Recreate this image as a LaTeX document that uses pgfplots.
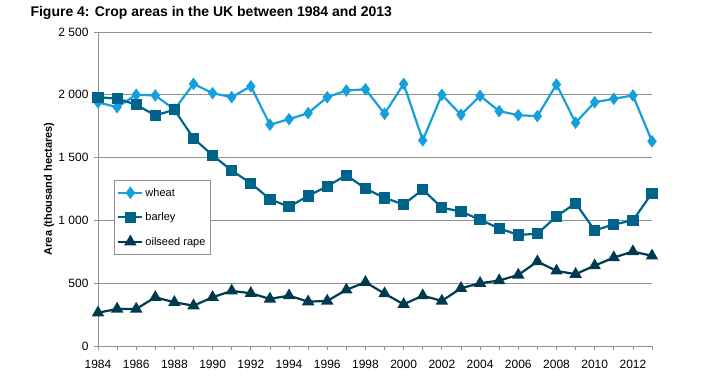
\documentclass[border=0pt]{standalone}
\usepackage{pgfplots}
\pgfplotsset{compat=1.18}
\usepackage{fontspec}
\setmainfont{Liberation Sans}
\definecolor{wheatc}{RGB}{22,160,219}
\definecolor{barleyc}{RGB}{0,100,138}
\definecolor{rapec}{RGB}{0,58,78}
\definecolor{gridc}{RGB}{145,145,145}
\begin{document}
\begin{tikzpicture}[x=1pt,y=1pt]
\useasboundingbox (0,0) rectangle (711,380);
\node[anchor=west,font=\fontsize{14}{16}\selectfont\bfseries] at (27,367) {Figure 4: Crop areas in the UK between 1984 and 2013};
\begin{axis}[
  at={(98pt,34pt)}, anchor=south west,
  scale only axis, width=554pt, height=314pt,
  xmin=1984, xmax=2013, ymin=0, ymax=2500,
  axis x line=bottom, axis y line=left,
  axis line style={-, gridc, line width=0.8pt},
  tick style={gridc, line width=0.8pt},
  tick align=outside, tick pos=left,
  major tick length=4pt, minor tick length=4pt,
  xtick={1984,1986,...,2012},
  xticklabels={1984,1986,1988,1990,1992,1994,1996,1998,2000,2002,2004,2006,2008,2010,2012},
  minor xtick={1985,1987,...,2013},
  ytick={0,500,1000,1500,2000,2500},
  yticklabels={0,500,1~000,1~500,2~000,2~500},
  ymajorgrids, grid style={gridc, line width=0.8pt},
  ticklabel style={font=\fontsize{12}{14}\selectfont},
  xticklabel style={yshift=-7pt},
  yticklabel style={xshift=-2pt},
  ylabel={Area (thousand hectares)},
  every axis y label/.style={at={(axis description cs:0,0.5)}, xshift=-49pt, rotate=90, anchor=center, font=\fontsize{11}{13}\selectfont\bfseries},
  legend style={at={(rel axis cs:0.029,0.529)}, anchor=north west, draw=gridc, font=\fontsize{11}{13}\selectfont, row sep=11pt, inner ysep=6pt, inner xsep=3pt},
  legend cell align=left,
  legend image code/.code={\draw[mark repeat=2,mark phase=2] plot coordinates {(0pt,0pt) (12pt,0pt) (24pt,0pt)};},
  clip=false,
]
\addplot[wheatc, line width=2.2pt, mark=diamond*, mark size=4.5pt] coordinates {
(1984,1940)(1985,1902)(1986,2000)(1987,1995)(1988,1883)(1989,2087)(1990,2013)(1991,1981)(1992,2068)(1993,1762)
(1994,1806)(1995,1854)(1996,1981)(1997,2034)(1998,2044)(1999,1849)(2000,2087)(2001,1637)(2002,2000)(2003,1841)
(2004,1992)(2005,1870)(2006,1838)(2007,1830)(2008,2082)(2009,1778)(2010,1941)(2011,1968)(2012,1995)(2013,1630)};
\addlegendentry{wheat}
\addplot[barleyc, line width=2.2pt, mark=square*, mark size=4.5pt] coordinates {
(1984,1980)(1985,1970)(1986,1921)(1987,1836)(1988,1881)(1989,1653)(1990,1518)(1991,1397)(1992,1296)(1993,1169)
(1994,1108)(1995,1195)(1996,1272)(1997,1360)(1998,1254)(1999,1179)(2000,1127)(2001,1246)(2002,1101)(2003,1071)
(2004,1005)(2005,937)(2006,884)(2007,894)(2008,1032)(2009,1137)(2010,921)(2011,968)(2012,1000)(2013,1217)};
\addlegendentry{barley}
\addplot[rapec, line width=2.2pt, mark=triangle*, mark size=5pt] coordinates {
(1984,265)(1985,295)(1986,295)(1987,388)(1988,348)(1989,321)(1990,388)(1991,439)(1992,420)(1993,375)
(1994,401)(1995,353)(1996,359)(1997,447)(1998,508)(1999,417)(2000,332)(2001,401)(2002,359)(2003,460)
(2004,500)(2005,521)(2006,566)(2007,672)(2008,598)(2009,572)(2010,640)(2011,704)(2012,752)(2013,718)};
\addlegendentry{oilseed rape}
\end{axis}
\end{tikzpicture}
\end{document}
